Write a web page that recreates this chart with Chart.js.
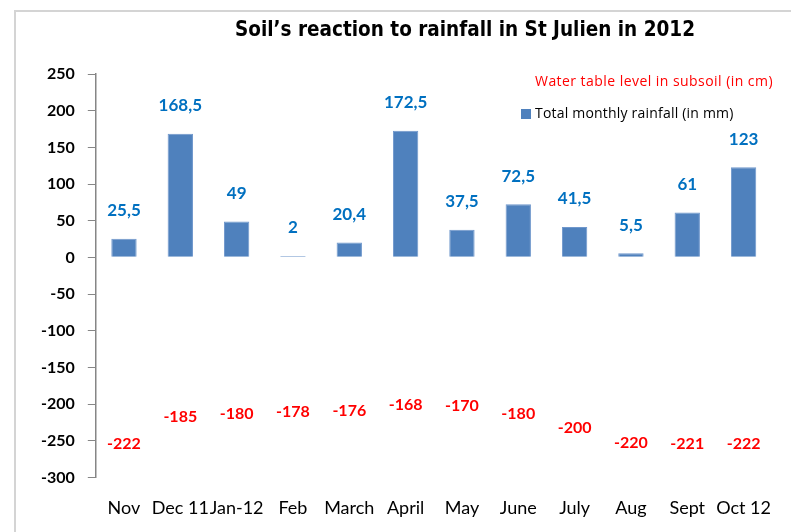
<!DOCTYPE html>
<html>
<head>
<meta charset="utf-8">
<script src="https://cdn.jsdelivr.net/npm/chart.js@4/dist/chart.umd.min.js"></script>
<style>
  html, body { margin: 0; padding: 0; background: #fff; overflow: hidden; }
  #wrap { position: relative; width: 791px; height: 532px; }
  #frame { position: absolute; left: 14px; top: 10px; width: 820px; height: 560px; border: 2px solid #d4d4d4; box-sizing: border-box; }
  #chart { position: absolute; left: 0; top: 0; }
</style>
</head>
<body>
<div id="wrap">
  <div id="frame"></div>
  <canvas id="chart" width="791" height="532"></canvas>
</div>
<script>
const months = ['Nov', 'Dec 11', 'Jan-12', 'Feb', 'March', 'April', 'May', 'June', 'July', 'Aug', 'Sept', 'Oct 12'];
const rainfall = [25.5, 168.5, 49, 2, 20.4, 172.5, 37.5, 72.5, 41.5, 5.5, 61, 123];
const waterTable = [-222, -185, -180, -178, -176, -168, -170, -180, -200, -220, -221, -222];

const rainLabel = 'Total monthly rainfall (in mm)';
const waterLabel = 'Water table level in subsoil (in cm)';
const titleText = 'Soil\u2019s reaction to rainfall in St Julien in 2012';

const fmt = v => String(v).replace('.', ',');

// titre, legende et etiquettes dessines a la main
const extras = {
    id: 'extras',
    afterDatasetsDraw(chart) {
        const ctx = chart.ctx;
        ctx.save();
        ctx.textAlign = 'center';
        ctx.textBaseline = 'middle';

        // etiquettes des barres
        ctx.font = 'bold 17px Lato';
        ctx.fillStyle = '#0070C0';
        chart.getDatasetMeta(0).data.forEach((bar, i) => {
            ctx.fillText(fmt(rainfall[i]), bar.x, bar.y - 28);
        });

        // etiquettes de la nappe
        ctx.font = 'bold 16px Lato';
        ctx.fillStyle = '#FF0000';
        chart.getDatasetMeta(1).data.forEach((pt, i) => {
            ctx.fillText(fmt(waterTable[i]), pt.x, pt.y + 24);
        });

        // titre
        ctx.font = 'bold 20.5px "DejaVu Sans Condensed", "DejaVu Sans"';
        ctx.fillStyle = '#000';
        ctx.fillText(titleText, 465, 31);

        // legende
        ctx.textAlign = 'left';
        ctx.font = '14px "Open Sans"';
        ctx.fillStyle = '#FF0000';
        ctx.letterSpacing = '0.45px';
        ctx.fillText(waterLabel, 535, 82);
        ctx.letterSpacing = '0.2px';
        ctx.fillStyle = '#4F81BD';
        ctx.fillRect(521, 109, 10, 10);
        ctx.fillStyle = '#000';
        ctx.fillText(rainLabel, 535, 114);
        ctx.restore();
    }
};

new Chart(document.getElementById('chart'), {
    type: 'bar',
    data: {
        labels: months,
        datasets: [{
            label: rainLabel,
            data: rainfall,
            backgroundColor: '#4F81BD',
            borderColor: '#6F97CC',
            borderWidth: 1,
            categoryPercentage: 1,
            barPercentage: 0.45
        }, {
            type: 'line',
            label: waterLabel,
            data: waterTable,
            showLine: false,
            pointRadius: 0,
            borderColor: '#FF0000'
        }]
    },
    options: {
        responsive: false,
        animation: false,
        layout: { padding: { left: 28, top: 74, right: 0, bottom: -7 } },
        plugins: {
            legend: { display: false },
            title: { display: false },
            tooltip: { enabled: false }
        },
        scales: {
            x: {
                grid: { display: false, drawTicks: false },
                border: { display: false },
                ticks: {
                    color: '#000',
                    font: { family: 'Lato', size: 18 },
                    padding: 20,
                    maxRotation: 0,
                    autoSkip: false
                }
            },
            y: {
                min: -300,
                max: 250,
                grid: { drawOnChartArea: false, tickLength: 8, color: '#868686' },
                border: { color: '#868686', width: 1.5 },
                ticks: {
                    stepSize: 50,
                    color: '#000',
                    padding: 13,
                    font: { family: 'Lato', size: 16, weight: 'bold' }
                }
            }
        }
    },
    plugins: [extras]
});
</script>
</body>
</html>
